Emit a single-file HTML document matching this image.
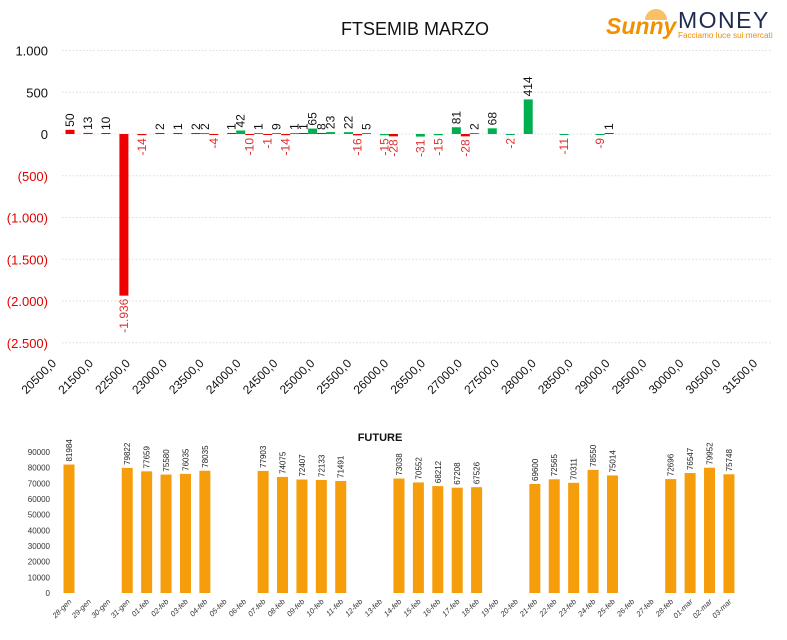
<!DOCTYPE html>
<html><head><meta charset="utf-8"><style>
html,body{margin:0;padding:0;background:#fff;}
svg text{font-family:"Liberation Sans",sans-serif;}
</style></head><body>
<svg width="787" height="635" viewBox="0 0 787 635" xmlns="http://www.w3.org/2000/svg">
<text x="415" y="35" text-anchor="middle" font-size="18" fill="#111">FTSEMIB MARZO</text>
<g>
  <path d="M645 20 A11 11 0 0 1 667 20 Z" fill="#f5a623" opacity="0.7"/>
  <text x="606" y="34" font-family="Liberation Serif,serif" font-style="italic" font-weight="bold" font-size="23" fill="#f29100">Sunny</text>
  <text x="678" y="28" font-size="23" fill="#1e2a4f" letter-spacing="1.5">MONEY</text>
  <text x="678" y="38" font-size="8.2" fill="#f08a00">Facciamo luce sui mercati</text>
</g>
<g id="topChart"></g>
<text x="380" y="441" text-anchor="middle" font-size="11" font-weight="bold" fill="#111">FUTURE</text>
<g id="botChart"></g>
</svg>
<script>
const strikeLabels=["20500,0","21500,0","22500,0","23000,0","23500,0","24000,0","24500,0","25000,0","25500,0","26000,0","26500,0","27000,0","27500,0","28000,0","28500,0","29000,0","29500,0","30000,0","30500,0","31500,0"];
const redCats=[0,1,2,3,4,5,6,7,8,9,10,11,12,13,14,16,18,22,30];
const redVals=[50,13,10,-1936,-14,2,1,2,-4,1,-10,-1,-14,1,8,-16,-28,-28,1];
const greenCats=[8,10,11,12,13,14,15,16,17,18,20,21,22,23,24,25,26,28,30];
const greenVals=[2,42,1,9,1,65,23,22,5,-15,-31,-15,81,2,68,-2,414,-11,-9];
const yTicks=[1000,500,0,-500,-1000,-1500,-2000,-2500];
const yTickLabels=["1.000","500","0","(500)","(1.000)","(1.500)","(2.000)","(2.500)"];

const dates=["28-gen","29-gen","30-gen","31-gen","01-feb","02-feb","03-feb","04-feb","05-feb","06-feb","07-feb","08-feb","09-feb","10-feb","11-feb","12-feb","13-feb","14-feb","15-feb","16-feb","17-feb","18-feb","19-feb","20-feb","21-feb","22-feb","23-feb","24-feb","25-feb","26-feb","27-feb","28-feb","01-mar","02-mar","03-mar"];
const futVals=[81984,null,null,79822,77659,75580,76035,78035,null,null,77903,74075,72407,72133,71491,null,null,73038,70552,68212,67208,67526,null,null,69600,72565,70311,78550,75014,null,null,72696,76547,79952,75748];
const futTicks=[0,10000,20000,30000,40000,50000,60000,70000,80000,90000];

const NS="http://www.w3.org/2000/svg";
function mk(p,tag,at,txt){const e=document.createElementNS(NS,tag);for(const k in at)e.setAttribute(k,at[k]);if(txt!==undefined)e.textContent=txt;p.appendChild(e);return e;}
function fmt(v){const s=String(Math.abs(v)).replace(/\B(?=(\d{3})+(?!\d))/g,'.');return (v<0?'-':'')+s;}

const topG=document.getElementById('topChart');
const y=v=>134-v*0.0835;
const cx=i=>65.5+i*17.97;
yTicks.forEach((t,k)=>{
  const gl=mk(topG,'line',{x1:62,x2:772,y1:y(t),y2:y(t),stroke:'#dcdcdc','stroke-dasharray':'1.5,2','stroke-width':1});
  
  
  const tl=mk(topG,'text',{x:48,y:y(t)+5,'text-anchor':'end','font-size':13,fill:t<0?'#e00000':'#111'},yTickLabels[k]);
  
  
});
function drawBar(i,v,off,col){
  const x=cx(i)+off-4.5;
  const h=Math.max(Math.abs(v)*0.0835,1);
  const r=mk(topG,'rect',{x:x,y:v>=0?y(0)-h:y(0),width:9,height:h,fill:col});
  
  
  const lx=cx(i)+off+4;
  let ly,anchor;
  if(v>=0){ly=y(0)-h-3;anchor='start';}else{ly=y(0)+h+3;anchor='end';}
  const t=mk(topG,'text',{x:lx,y:ly,'text-anchor':anchor,'font-size':12,fill:v<0?'#e03030':'#111',transform:`rotate(-90 ${lx} ${ly})`},fmt(v));
  
  
}
greenCats.forEach((c,k)=>drawBar(c,greenVals[k],-4.5,'#00b050'));
redCats.forEach((c,k)=>drawBar(c,redVals[k],4.5,'#ee0000'));
strikeLabels.forEach((s,k)=>{
  const lx=57+k*36.9,ly=364;
  const t=mk(topG,'text',{x:lx,y:ly,'text-anchor':'end','font-size':12,fill:'#111',transform:`rotate(-45 ${lx} ${ly})`},s);
  
  
});

const botG=document.getElementById('botChart');
const fy=v=>593-v*0.001567;
const fx=i=>69+i*19.41;
futTicks.forEach(t=>{
  const tl=mk(botG,'text',{x:50,y:fy(t)+3,'text-anchor':'end','font-size':8,fill:'#333'},String(t));
  
  
});
dates.forEach((d,i)=>{
  const lx=fx(i)+3,ly=602;
  const t=mk(botG,'text',{x:lx,y:ly,'text-anchor':'end','font-size':7.5,'font-style':'italic',fill:'#333',transform:`rotate(-45 ${lx} ${ly})`},d);
  
  
  const v=futVals[i];
  if(v==null)return;
  const r=mk(botG,'rect',{x:fx(i)-5.5,y:fy(v),width:11,height:593-fy(v),fill:'#f59d0a'});
  
  
  const vx=fx(i)+3,vy=fy(v)-3;
  const vl=mk(botG,'text',{x:vx,y:vy,'font-size':8,fill:'#222',transform:`rotate(-90 ${vx} ${vy})`},String(v));
  
  
});
</script>
</body></html>
